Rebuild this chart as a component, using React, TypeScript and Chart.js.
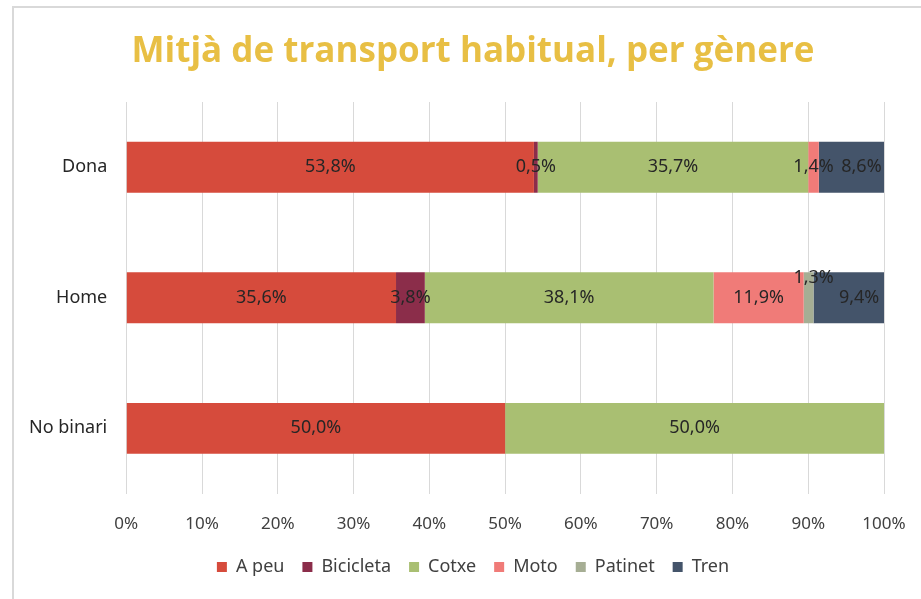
import React, { useEffect, useRef } from "react";
import { Chart, registerables } from "chart.js";

Chart.register(...registerables);

const categories = ["Dona", "Home", "No binari"];
const seriesNames = ["A peu", "Bicicleta", "Cotxe", "Moto", "Patinet", "Tren"];
const aPeu = [53.8, 35.6, 50.0];
const bicicleta = [0.5, 3.8, 0];
const cotxe = [35.7, 38.1, 50.0];
const moto = [1.4, 11.9, 0];
const patinet = [0, 1.3, 0];
const tren = [8.6, 9.4, 0];
const seriesValues = [aPeu, bicicleta, cotxe, moto, patinet, tren];
const seriesColors = ["#D64B3C", "#8B2D4A", "#A9BF72", "#F07B78", "#A6AE94", "#44546A"];
const titleText = "Mitjà de transport habitual, per gènere";

const FONT = "'Noto Sans', sans-serif";
const fmt = (v: number) => v.toFixed(1).replace(".", ",") + "%";

const labelPlugin = {
  id: "segLabels",
  afterDatasetsDraw(chart: any) {
    const ctx = chart.ctx;
    ctx.save();
    ctx.font = "18px " + FONT;
    ctx.fillStyle = "#262626";
    ctx.textAlign = "center";
    ctx.textBaseline = "middle";
    const last = chart.data.datasets.length - 1;
    chart.data.datasets.forEach((ds: any, di: number) => {
      const meta = chart.getDatasetMeta(di);
      meta.data.forEach((el: any, i: number) => {
        const v = ds.data[i];
        if (!v) return;
        const props = el.getProps(["x", "y", "base", "height"], true);
        let cx = (props.x + props.base) / 2;
        let cy = props.y;
        if (ds.label === "Patinet") {
          cy = props.y - props.height / 2 + 6;
          cx += 5;
        }
        if (di === last) cx += 10;
        ctx.fillText(fmt(v), cx, cy);
      });
    });
    ctx.restore();
  },
};

// Title and legend centred on the framed chart box (frame starts at x=13)
const boxCenter = (chart: any) => (13 + chart.width) / 2 + 6;

const titlePlugin = {
  id: "boxTitle",
  afterDraw(chart: any) {
    const ctx = chart.ctx;
    ctx.save();
    ctx.font = "bold 35px 'Open Sans', sans-serif";
    ctx.fillStyle = "#E8BF44";
    ctx.textAlign = "center";
    ctx.textBaseline = "middle";
    ctx.fillText(titleText, boxCenter(chart), 52);
    ctx.restore();
  },
};

const legendShift = {
  id: "legendShift",
  afterLayout(chart: any) {
    const lg = chart.legend;
    if (!lg) return;
    const d = boxCenter(chart) - (lg.left + lg.right) / 2;
    lg.left += d;
    lg.right += d;
  },
};

export default function App() {
  const ref = useRef<HTMLCanvasElement | null>(null);
  useEffect(() => {
    document.body.style.margin = "0";
    const chart = new Chart(ref.current!, {
      type: "bar",
      data: {
        labels: categories,
        datasets: seriesNames.map((n, i) => ({
          label: n,
          data: seriesValues[i],
          backgroundColor: seriesColors[i],
          borderWidth: 0,
          categoryPercentage: 1,
          barPercentage: 0.39,
        })),
      },
      options: {
        indexAxis: "y",
        animation: false,
        responsive: false,
        layout: { autoPadding: false, padding: { left: 18, right: 37, top: 102, bottom: 13 } },
        scales: {
          x: {
            stacked: true,
            min: 0,
            max: 100,
            afterFit: (s: any) => {
              s.height = s.height - 14;
              s.paddingRight = 0;
              s.paddingLeft = 0;
            },
            ticks: {
              stepSize: 10,
              callback: (v: any) => v + "%",
              color: "#404040",
              font: { size: 17, family: FONT },
              padding: 20,
            },
            grid: { color: "#D9D9D9", drawTicks: false },
            border: { display: false },
          },
          y: {
            stacked: true,
            ticks: {
              color: "#262626",
              font: { size: 18, family: FONT },
              padding: 11,
            },
            grid: { display: false },
            border: { display: false },
          },
        },
        plugins: {
          title: { display: false },
          legend: {
            position: "bottom",
            labels: {
              boxWidth: 10,
              boxHeight: 10,
              color: "#404040",
              font: { size: 18, family: FONT },
              padding: 18,
            },
          },
          tooltip: { enabled: false },
        },
      },
      plugins: [labelPlugin, titlePlugin, legendShift],
    } as any);
    return () => chart.destroy();
  }, []);
  return (
    <div style={{ position: "relative", width: 921, height: 599, background: "#fff" }}>
      <div
        style={{
          position: "absolute",
          left: 12,
          top: 6,
          right: 0,
          bottom: 0,
          borderLeft: "2px solid #D9D9D9",
          borderTop: "2px solid #D9D9D9",
        }}
      />
      <canvas ref={ref} width={921} height={599} style={{ position: "absolute", left: 0, top: 0 }} />
    </div>
  );
}
